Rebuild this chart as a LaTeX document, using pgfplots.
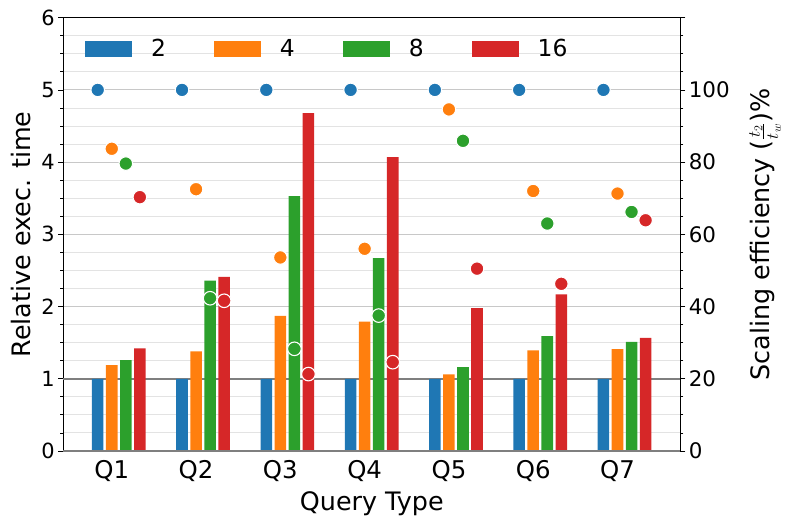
\documentclass[border=0pt]{standalone}
\usepackage{pgfplots}
\pgfplotsset{compat=1.18}
\usepackage{pgfplotstable}
\usepackage{fontspec}
\setmainfont{DejaVu Sans}
\definecolor{cB}{HTML}{1F77B4}
\definecolor{cO}{HTML}{FF7F0E}
\definecolor{cG}{HTML}{2CA02C}
\definecolor{cR}{HTML}{D62728}
\definecolor{gridmaj}{HTML}{C8C8C8}
\definecolor{gridmin}{HTML}{E3E3E3}
\definecolor{refline}{HTML}{7F7F7F}

\pgfplotstableread{
x  t2  t4    t8    t16   e2   e4    e8    e16
0  1   1.19  1.26  1.42  100  83.7  79.6  70.3
1  1   1.38  2.36  2.41  100  72.5  42.3  41.6
2  1   1.87  3.53  4.68  100  53.6  28.3  21.3
3  1   1.79  2.67  4.07  100  56.0  37.5  24.6
4  1   1.06  1.16  1.98  100  94.6  85.9  50.5
5  1   1.395 1.59  2.17  100  72.0  63.0  46.3
6  1   1.41  1.51  1.565 100  71.3  66.2  63.9
}\data

\begin{document}
\begin{tikzpicture}
\path[use as bounding box] (-63.3bp,-74bp) rectangle (725.7bp,451bp);
\pgfplotsset{
  common/.style={
    scale only axis, width=617bp, height=433.3bp,
    at={(0,0)}, anchor=south west,
    xmin=-0.575, xmax=6.745,
    /pgf/number format/assume math mode=true,
    tick align=outside,
    major tick length=5bp, minor tick length=3bp,
    tick style={black, line width=0.8bp},
    axis line style={black, line width=1bp},
  }
}
\begin{axis}[common,
  clip=false,
  ymin=0, ymax=6,
  ytick={0,1,...,6}, minor ytick={0,0.25,...,6},
  ytick pos=left,
  ymajorgrids, yminorgrids,
  major grid style={gridmaj, line width=0.9bp},
  minor grid style={gridmin, line width=0.9bp},
  xtick={0,...,6}, xticklabels={Q1,Q2,Q3,Q4,Q5,Q6,Q7},
  xtick style={draw=none},
  yticklabel style={font=\fontsize{21}{21}\selectfont},
  xticklabel style={font=\fontsize{24.5}{24.5}\selectfont, anchor=base, yshift=-22bp},
  xlabel={Query Type},
  xlabel style={font=\fontsize{25.5}{25.5}\selectfont, at={(axis description cs:0.5,-0.1362)}, anchor=base},
  ylabel={Relative exec. time},
  ylabel style={font=\fontsize{25.5}{25.5}\selectfont, at={(axis description cs:-0.0686,0.5)}, anchor=center},
  ybar, bar width=0.137,
  legend columns=4,
  legend image code/.code={\fill[#1] (0bp,-8.3bp) rectangle (47bp,8.3bp);},
  legend style={at={(axis description cs:0.0352,0.9278)}, anchor=west,
    draw=none, fill=none, inner sep=0pt, outer sep=0pt,
    font=\fontsize{23.5}{23.5}\selectfont,
    nodes={inner sep=0pt},
    /tikz/every odd column/.append style={column sep=19bp},
    /tikz/every even column/.append style={column sep=48bp}},
]
\draw[refline, line width=1.5bp] (axis cs:-0.575,1) -- (axis cs:6.745,1);
\addplot[fill=cB, draw=none, bar shift=-0.1667] table[x=x, y=t2] {\data};
\addlegendentry{2}
\addplot[fill=cO, draw=none, bar shift=0] table[x=x, y=t4] {\data};
\addlegendentry{4}
\addplot[fill=cG, draw=none, bar shift=0.1667] table[x=x, y=t8] {\data};
\addlegendentry{8}
\addplot[fill=cR, draw=none, bar shift=0.3333] table[x=x, y=t16] {\data};
\addlegendentry{16}
\draw[refline, line width=1.5bp] (axis cs:-0.575,0) -- (axis cs:6.745,0);
\end{axis}
\begin{axis}[common,
  ymin=0, ymax=120,
  axis x line=none, axis y line*=right,
  ytick={0,20,...,120}, yticklabels={0,20,40,60,80,100,{}},
  minor ytick={0,5,...,120},
  yticklabel style={font=\fontsize{21.5}{21.5}\selectfont},
  ylabel={Scaling efficiency ($\frac{t_2}{t_w}$)\%},
  ylabel style={font=\fontsize{25.5}{25.5}\selectfont, at={(axis description cs:1.1373,0.5)}, anchor=center},
  every axis plot/.append style={only marks, mark=*, mark size=6.8bp, line width=1.1bp},
]
\addplot[mark options={fill=cB, draw=white}] table[x expr=\thisrow{x}-0.1667, y=e2] {\data};
\addplot[mark options={fill=cO, draw=white}] table[x expr=\thisrow{x}, y=e4] {\data};
\addplot[mark options={fill=cG, draw=white}] table[x expr=\thisrow{x}+0.1667, y=e8] {\data};
\addplot[mark options={fill=cR, draw=white}] table[x expr=\thisrow{x}+0.3333, y=e16] {\data};
\end{axis}
\end{tikzpicture}
\end{document}
